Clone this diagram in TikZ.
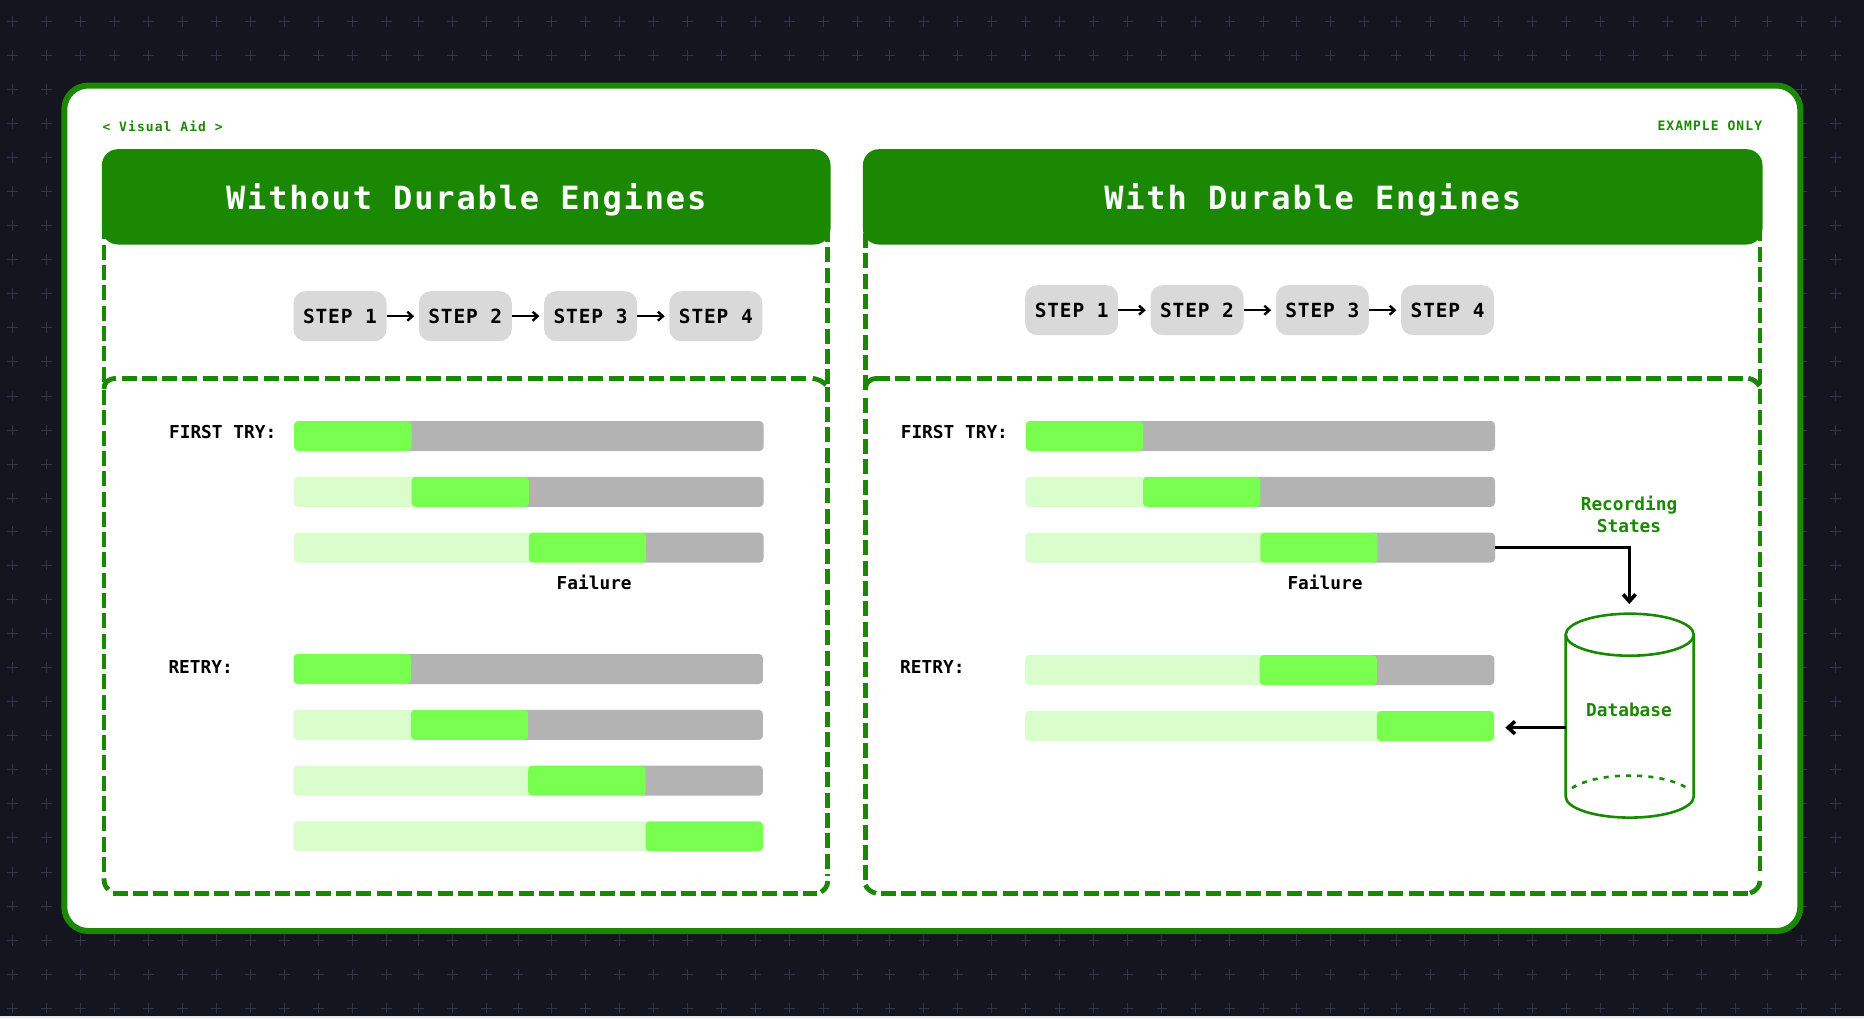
\documentclass[tikz,border=0pt]{standalone}
\usepackage{fontspec}
\usetikzlibrary{arrows.meta}
\setmainfont{DejaVu Sans Mono}
\newfontfamily\hdrf[LetterSpace=5.8]{DejaVu Sans Mono}
\newfontfamily\stepf[LetterSpace=4.4]{DejaVu Sans Mono}
\newfontfamily\tinyf[LetterSpace=8.2]{DejaVu Sans Mono}
\newfontfamily\labf{DejaVu Sans Mono}
\definecolor{bgdark}{HTML}{14151E}
\definecolor{crossc}{HTML}{32344C}
\definecolor{gr}{HTML}{1B8803}
\definecolor{barg}{HTML}{B3B3B3}
\definecolor{stepg}{HTML}{D9D9D9}
\definecolor{lime}{HTML}{79FF4F}
\definecolor{palec}{HTML}{DAFDCC}
\definecolor{bottomband}{HTML}{E5E7EB}
\tikzset{
  dashline/.style={draw=gr,line width=4.8,dash pattern=on 15 off 5.3},
  cornerline/.style={draw=gr,line width=4.8},
  headbox/.style={fill=gr,rounded corners=16,inner sep=0,minimum height=95.3,text=white,text depth=0pt,font=\hdrf\bfseries\fontsize{32}{38}\selectfont},
  stepbox/.style={fill=stepg,rounded corners=12,inner sep=0,minimum width=93,minimum height=50,text=black,font=\stepf\bfseries\fontsize{19.5}{24}\selectfont},
  steparrow/.style={draw=black,line width=2.4,-{Straight Barb[length=5,width=9]},shorten >=4.5},
  bigarrow/.style={draw=black,line width=3,-{Straight Barb[length=7,width=12.5,line width=3.6]}},
  barslot/.style={inner sep=0,minimum width=469.3,minimum height=30,anchor=north west},
  blacklab/.style={text=black,inner sep=0,font=\labf\bfseries\fontsize{17.8}{21.6}\selectfont},
  greenlab/.style={text=gr,inner sep=0,align=center,font=\labf\bfseries\fontsize{17.8}{21.6}\selectfont},
  smalllab/.style={text=gr,inner sep=0,font=\tinyf\bfseries\fontsize{13}{16}\selectfont},
  cyl/.style={draw=gr,line width=2.6}
}
% name, x, y, finished segments
\newcommand{\pbar}[4]{%
  \node[barslot] (#1) at (#2,#3) {};
  \ifnum#4<3 \fill[barg,rounded corners=4] ({#2+(#4+1)*117.3-8},#3) rectangle ({#2+469.3},{#3+30});\fi
  \ifnum#4>0 \fill[palec,rounded corners=4] (#2,#3) rectangle ({#2+#4*117.3+8},{#3+30});\fi
  \fill[lime,rounded corners=4] ({#2+#4*117.3},#3) rectangle ++(117.3,30);
}
\begin{document}
\begin{tikzpicture}[x=1pt,y=-1pt]
\useasboundingbox (0,0) rectangle (1864,1018);
\fill[bgdark] (0,0) rectangle (1864,1018);
\fill[bottomband] (0,1016) rectangle (1864,1018);
% background crosses
\foreach \yy in {21.7,55.7,89.7,123.7,157.6,191.6,225.5,259.5,293.5,327.5,361.7,396,430,464,498,531,565,599,633,667.5,701.5,735.5,769.5,803.7,837.7,872,906,940.3,974.3,1008}{
  \foreach \xx in {12.3,46.3,80.3,114.3,148.3,182.3,216.3,250.3,284.3,318.3,352.3,386.3,418.5,452.5,486.5,518,551.7,585.7,619.7,653.7,687.7,721.7,755.7,789.7,823.7,857.7,889.8,923.8,957.8,991.8,1025.8,1059.8,1093.8,1127.8,1161.8,1195.8,1229.8,1263.8,1296,1330,1364,1396,1430,1464,1498,1532,1566,1600,1633.5,1667.3,1701.3,1735,1767,1801.3,1835.4}{
    \draw[crossc,line width=1] (\xx-5.3,\yy) -- (\xx+5.3,\yy) (\xx,\yy-5.3) -- (\xx,\yy+5.3);
  }
}
% frame
\draw[gr,line width=6,fill=white,rounded corners=24] (64.3,85.5) rectangle (1800.3,931);
\node[smalllab,anchor=west] (vis) at (102.3,126.3) {< Visual Aid >};
\node[smalllab,anchor=east] (ex) at (1762.3,126.2) {EXAMPLE ONLY};

% upper panel side lines
\draw[dashline] (104,224.4) -- (104,388);
\draw[dashline] (827.7,227) -- (827.7,388);
\draw[dashline] (865.3,233) -- (865.3,390);
\draw[dashline] (1760,226.4) -- (1760,388);

% left lower box
\draw[dashline] (121.5,378.3) -- (806.7,378.3);
\draw[dashline] (827.7,386.7) -- (827.7,876);
\draw[dashline] (112.7,893.5) -- (817.3,893.5);
\draw[dashline] (104,390) -- (104,872.3);
\draw[cornerline] (812.7,378.3) .. controls (819,379.5) and (823,381.5) .. (826,385);
\draw[cornerline] (827.7,881) .. controls (827.7,886) and (825,889.5) .. (821,892);
\draw[cornerline] (104,878.3) .. controls (104,883.5) and (105,886.5) .. (108.5,889.5);
\draw[cornerline] (104,389) .. controls (104,383) and (107,379) .. (116,378.3);
% right lower box
\draw[dashline] (875,378.3) -- (1743.5,378.3);
\draw[dashline] (1760,389.3) -- (1760,876);
\draw[dashline] (880.7,893.5) -- (1749,893.5);
\draw[dashline] (865.3,398.3) -- (865.3,881);
\draw[cornerline] (1748.3,378.3) .. controls (1753,379) and (1757,382) .. (1759.5,386);
\draw[cornerline] (1760,881) .. controls (1760,886) and (1756,891.5) .. (1750,893);
\draw[cornerline] (865.3,885) .. controls (867,889) and (871,892) .. (876,893.3);
\draw[cornerline] (865.3,390) .. controls (865.3,383) and (869,379) .. (877,378.3);

% headers
\node[headbox,minimum width=728.6,anchor=north west] (hl) at (101.7,149) {Without Durable Engines};
\node[headbox,minimum width=899.6,anchor=north west] (hr) at (862.7,149) {With Durable Engines};

% steps left
\foreach \i/\x in {1/293.3,2/418.6,3/543.9,4/669.2}{
  \node[stepbox,anchor=north west] (ls\i) at (\x,291) {STEP \i};
}
\draw[steparrow] (ls1) -- (ls2);
\draw[steparrow] (ls2) -- (ls3);
\draw[steparrow] (ls3) -- (ls4);
% steps right
\foreach \i/\x in {1/1025,2/1150.3,3/1275.6,4/1400.9}{
  \node[stepbox,anchor=north west] (rs\i) at (\x,285) {STEP \i};
}
\draw[steparrow] (rs1) -- (rs2);
\draw[steparrow] (rs2) -- (rs3);
\draw[steparrow] (rs3) -- (rs4);

% left bars
\pbar{la}{294.2}{421}{0}
\pbar{lb}{294.2}{476.8}{1}
\pbar{lc}{294.2}{532.6}{2}
\pbar{ld}{293.6}{654}{0}
\pbar{le}{293.6}{709.8}{1}
\pbar{lf}{293.6}{765.6}{2}
\pbar{lg}{293.6}{821.4}{3}
% right bars
\pbar{ra}{1025.7}{421}{0}
\pbar{rb}{1025.7}{476.8}{1}
\pbar{rc}{1025.7}{532.6}{2}
\pbar{rd}{1025}{655}{2}
\pbar{re}{1025}{711}{3}

% labels
\node[blacklab,anchor=west] (lfirst) at (168.9,431.7) {FIRST TRY:};
\node[blacklab,anchor=west] (lretry) at (168.3,667.3) {RETRY:};
\node[blacklab] (lfail) at (594.2,582.7) {Failure};
\node[blacklab,anchor=west] (rfirst) at (900.6,431.7) {FIRST TRY:};
\node[blacklab,anchor=west] (rretry) at (900,667.3) {RETRY:};
\node[blacklab] (rfail) at (1325,582.7) {Failure};
\node[greenlab] (rec) at (1629,514.2) {Recording\\States};
\node[greenlab] (dbl) at (1629,710.2) {Database};

% database
\coordinate (dbin) at (1629.3,604);
\coordinate (dbout) at (1505.3,727.6);
\coordinate (dbside) at (1565.7,727.6);
\draw[cyl] (1629.7,634.7) ellipse [x radius=64,y radius=21];
\draw[cyl] (1565.7,634.7) -- (1565.7,796.6) .. controls (1565.7,808.2) and (1594.4,817.6) .. (1629.7,817.6) .. controls (1665,817.6) and (1693.7,808.2) .. (1693.7,796.6) -- (1693.7,634.7);
\draw[cyl,dash pattern=on 5 off 6.2] (1572,788) .. controls (1585,780) and (1606,775.6) .. (1629.7,775.6) .. controls (1653,775.6) and (1674,780) .. (1687,788);

% connectors
\draw[bigarrow] (rc.east) -| (dbin);
\draw[bigarrow] (dbside) -- (dbout);
\end{tikzpicture}
\end{document}
